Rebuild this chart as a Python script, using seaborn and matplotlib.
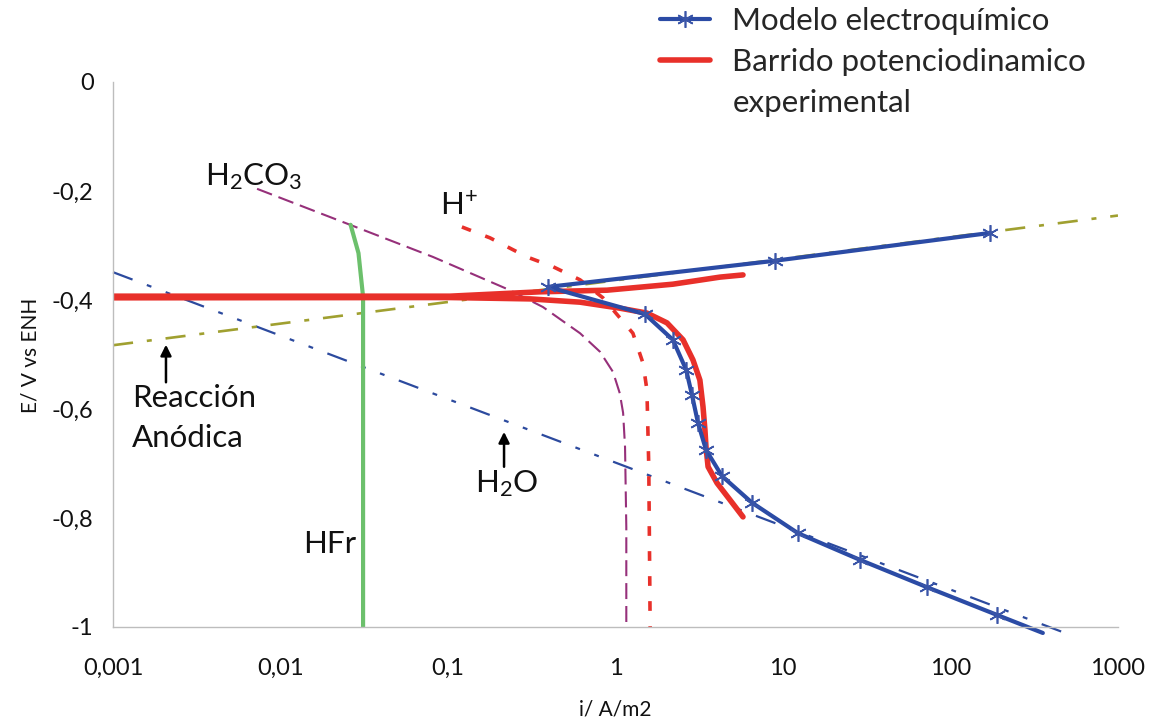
import matplotlib
matplotlib.use("Agg")
import matplotlib.pyplot as plt
import matplotlib.ticker as mticker
from matplotlib.lines import Line2D
import seaborn as sns

# Polarization curves: current density i (A/m2) against potential E (V vs ENH)
model_i = [172, 8.95, 0.395, 1.50, 2.20, 2.64, 2.86, 3.11, 3.47, 4.32, 6.53, 12.3, 28.9, 72.4, 190, 356]
model_E = [-0.277, -0.328, -0.376, -0.426, -0.473, -0.528, -0.574, -0.626, -0.675, -0.723, -0.772,
           -0.828, -0.877, -0.927, -0.978, -1.011]

exp_i = [5.77, 4.83, 4.04, 3.57, 3.47, 3.42, 3.33, 3.19, 2.90, 2.53, 2.03, 1.54, 1.06, 0.614, 0.309,
         0.103, 0.001, 0.001, 0.103, 0.354, 0.889, 2.20, 4.21, 5.77]
exp_E = [-0.798, -0.767, -0.736, -0.706, -0.670, -0.639, -0.596, -0.547, -0.510, -0.473, -0.442, -0.424,
         -0.415, -0.404, -0.398, -0.3955, -0.396, -0.393, -0.393, -0.385, -0.382, -0.371, -0.358, -0.354]

h2co3_i = [0.00724, 0.0260, 0.0813, 0.234, 0.369, 0.614, 0.808, 0.966, 1.06, 1.11, 1.14, 1.16, 1.16]
h2co3_E = [-0.196, -0.262, -0.321, -0.382, -0.413, -0.461, -0.495, -0.532, -0.571, -0.607, -0.670, -0.817, -1.0]

hplus_i = [0.121, 0.178, 0.296, 0.424, 0.614, 0.841, 1.27, 1.46, 1.54, 1.58, 1.61]
hplus_E = [-0.266, -0.286, -0.321, -0.339, -0.363, -0.396, -0.461, -0.516, -0.565, -0.706, -1.0]

h2o_i = [0.001, 483]
h2o_E = [-0.349, -1.011]

anodic_i = [0.001, 1000]
anodic_E = [-0.483, -0.245]

hfr_i = [0.0262, 0.0292, 0.0311, 0.0311]
hfr_E = [-0.262, -0.314, -0.394, -1.0]

x_ticks = [0.001, 0.01, 0.1, 1, 10, 100, 1000]
x_tick_labels = ["0,001", "0,01", "0,1", "1", "10", "100", "1000"]
y_ticks = [0, -0.2, -0.4, -0.6, -0.8, -1.0]
y_tick_labels = ["0", "-0,2", "-0,4", "-0,6", "-0,8", "-1"]

sns.set_theme(style="white")
plt.rcParams["font.family"] = ["Lato", "DejaVu Sans"]
plt.rcParams["mathtext.fontset"] = "custom"
plt.rcParams["mathtext.rm"] = "Lato"
plt.rcParams["mathtext.it"] = "Lato"
plt.rcParams["lines.scale_dashes"] = False

fig = plt.figure(figsize=(11.56, 7.25), dpi=100)
ax = fig.add_axes([0.0978, 0.1352, 0.8693, 0.7517])
ax.set_xscale("log")


def curve(i, E, **kw):
    sns.lineplot(x=i, y=E, sort=False, estimator=None, ax=ax, legend=False, **kw)


# Partial reactions
curve(h2o_i, h2o_E, color="#2C4A9E", linewidth=1.6,
      linestyle=(0, (15, 11, 3.5, 11, 3.5, 11)), clip_on=False)
curve(anodic_i, anodic_E, color="#A0A030", linewidth=1.9, linestyle=(0, (14.5, 10, 3.6, 10)))
curve(h2co3_i, h2co3_E, color="#96307A", linewidth=1.5, linestyle=(0, (11.5, 5)))
curve(hplus_i, hplus_E, color="#E8302A", linewidth=2.6, linestyle=(0, (7, 11)))
curve(hfr_i, hfr_E, color="#6CC06C", linewidth=3.0)

# Experimental sweep and electrochemical model
curve(exp_i, exp_E, color="#E8302A", linewidth=4.0, label="Barrido potenciodinamico")
curve(model_i, model_E, color="#2B4BA5", linewidth=3.0, marker=(6, 2, 0), markersize=12,
      markeredgewidth=1.2, markeredgecolor="#3A55A8", markevery=list(range(len(model_i) - 1)),
      clip_on=False, label="Modelo electroquímico")

ax.set_xlim(0.001, 1000)
ax.set_ylim(-1.0, 0.0)

ax.set_xticks(x_ticks)
ax.set_xticklabels(x_tick_labels)
ax.xaxis.set_minor_locator(mticker.LogLocator(base=10, subs=range(2, 10)))
ax.xaxis.set_minor_formatter(mticker.NullFormatter())
ax.set_yticks(y_ticks)
ax.set_yticklabels(y_tick_labels)
ax.yaxis.set_minor_locator(mticker.MultipleLocator(0.04))

for side in ("top", "right"):
    ax.spines[side].set_visible(False)
for side in ("left", "bottom"):
    ax.spines[side].set_color("#BDBDBD")
    ax.spines[side].set_linewidth(1.0)

ax.tick_params(axis="both", which="both", direction="out", color="#BDBDBD", width=1.0)
ax.tick_params(axis="both", which="major", length=5)
ax.tick_params(axis="both", which="minor", length=5)
ax.tick_params(axis="x", which="major", labelsize=17, pad=17, labelcolor="#111111")
ax.tick_params(axis="y", which="major", labelsize=17, pad=9, labelcolor="#111111")

ax.set_xlabel("i/ A/m2", fontsize=15, color="#111111")
ax.set_ylabel("E/ V vs ENH", fontsize=15, color="#111111")
ax.xaxis.set_label_coords(0.4995, -0.152)
ax.xaxis.label.set_va("center")
ax.yaxis.set_label_coords(-0.0826, 0.499)
ax.yaxis.label.set_va("center")

# Curve labels
txt = dict(fontsize=22.5, color="#111111", va="baseline", ha="left")
ax.text(0.00354, -0.189, r"H$_{\mathrm{2}}$CO$_{\mathrm{3}}$", **txt)
ax.text(0.0895, -0.244, r"H$^{\mathrm{+}}$", **txt)
ax.text(0.0013, -0.596, "Reacción", **txt)
ax.text(0.0013, -0.670, "Anódica", **txt)
ax.text(0.145, -0.752, r"H$_{\mathrm{2}}$O", **txt)
ax.text(0.0136, -0.864, "HFr", **txt)

arrow = dict(arrowstyle="-|>", color="black", lw=1.8, mutation_scale=16, shrinkA=0, shrinkB=0)
ax.annotate("", xy=(0.00207, -0.482), xytext=(0.00207, -0.551), arrowprops=arrow)
ax.annotate("", xy=(0.216, -0.642), xytext=(0.216, -0.706), arrowprops=arrow)

# Legend above the plot area; the second label wraps onto a third row
lines = {l.get_label(): l for l in ax.get_lines()}
blank = Line2D([], [], linestyle="none")
fig.legend([lines["Modelo electroquímico"], lines["Barrido potenciodinamico"], blank],
           ["Modelo electroquímico", "Barrido potenciodinamico", "experimental"],
           loc="upper left", bbox_to_anchor=(660 / 1156, 1 - 7 / 725), frameon=False,
           fontsize=22.5, handlelength=1.6, handletextpad=0.72, labelspacing=0.42,
           borderpad=0, borderaxespad=0)

fig.savefig("out.png", dpi=100)
